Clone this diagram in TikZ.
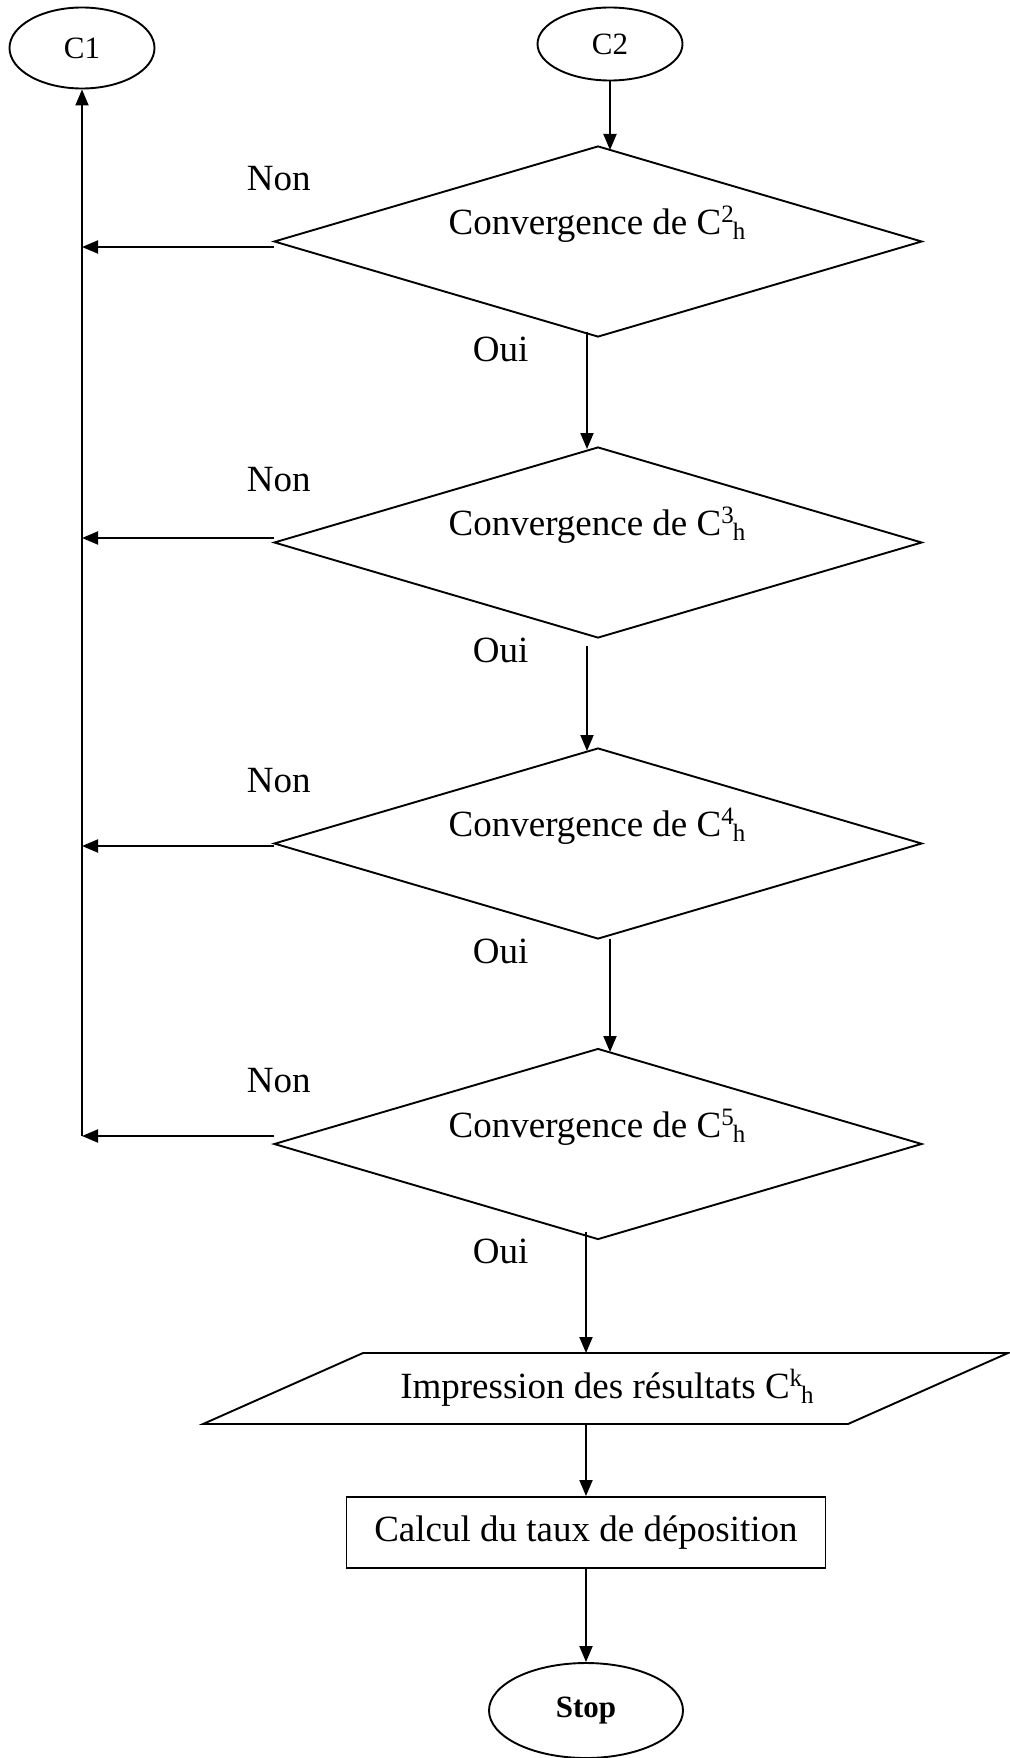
\documentclass[tikz,border=0pt]{standalone}
\usepackage{fontspec}
\setmainfont{Liberation Serif}
\usetikzlibrary{shapes.geometric,arrows.meta}

% text sizes used in the chart
\newcommand\bigtext{\fontsize{37}{44}\selectfont}
\newcommand\termtext{\fontsize{31}{37}\selectfont}
\newcommand\stoptext{\fontsize{31}{37}\selectfont\bfseries}
\newcommand\idxsize{\fontsize{25}{25}\selectfont}
% C with an upper index followed by a lower index
\newcommand\Cidx[2]{C\raisebox{12pt}{\idxsize #1}\kern-1pt\raisebox{-5pt}{\idxsize #2}}

\begin{document}
\begin{tikzpicture}[x=1pt,y=-1pt,line width=1.9pt,
  arr/.style={-{Triangle[length=16pt,width=13pt]}},
  term/.style={draw,ellipse,inner sep=0pt},
  decision/.style={draw,diamond,minimum width=648pt,minimum height=191pt,inner sep=0pt},
  lbl/.style={font=\bigtext,inner sep=0pt,anchor=base west},
  ctext/.style={font=\bigtext,inner sep=0pt,anchor=base},
]
\useasboundingbox (0,0) rectangle (1009,1758);

% connectors C1 / C2
\node[term,minimum width=145pt,minimum height=81pt,font=\termtext] (c1) at (82,48) {C1};
\node[term,minimum width=145pt,minimum height=73pt,font=\termtext] (c2) at (610,44) {C2};

% the four convergence tests
\node[decision] (d1) at (598,241.5) {};
\node[decision] (d2) at (598,542.5) {};
\node[decision] (d3) at (598,843.5) {};
\node[decision] (d4) at (598,1144) {};

\node[ctext] (t1) at (597,234.5) {Convergence de \Cidx{2}{h}};
\node[ctext] (t2) at (597,535.5) {Convergence de \Cidx{3}{h}};
\node[ctext] (t3) at (597,836.5) {Convergence de \Cidx{4}{h}};
\node[ctext] (t4) at (597,1137) {Convergence de \Cidx{5}{h}};

\node[lbl] (n1) at (246,190) {Non};
\node[lbl] (n2) at (246,491) {Non};
\node[lbl] (n3) at (246,792) {Non};
\node[lbl] (n4) at (246,1092.5) {Non};

\node[lbl] (o1) at (472,361.5) {Oui};
\node[lbl] (o2) at (472,662.5) {Oui};
\node[lbl] (o3) at (472,963.5) {Oui};
\node[lbl] (o4) at (472,1263) {Oui};

% output of the results (parallelogram)
\coordinate (pbl) at (203,1424);
\coordinate (ptl) at (363,1353);
\coordinate (ptr) at (1008,1353);
\coordinate (pbr) at (848,1424);
\draw (pbl) -- (ptl) -- (ptr) -- (pbr) -- cycle;
\node[ctext] (pt) at (607,1398) {Impression des résultats \Cidx{k}{h}};

% computation box and end
\node[draw,minimum width=479pt,minimum height=71pt,inner sep=0pt,font=\bigtext] (rc) at (586,1532.5) {Calcul du taux de déposition};
\node[term,minimum width=194pt,minimum height=95pt,font=\stoptext] (st) at (586,1710.5) {Stop};

% ends of the "Oui" connectors
\coordinate (e1) at (610,150);
\coordinate (x1) at (587,332);
\coordinate (e2) at (587,449);
\coordinate (x2) at (587,646);
\coordinate (e3) at (587,751);
\coordinate (x3) at (610,939);
\coordinate (e4) at (610,1052);
\coordinate (x4) at (586,1232);

% ends of the "Non" connectors and the return line
\coordinate (w1) at (274,247);
\coordinate (w2) at (274,538);
\coordinate (w3) at (274,846);
\coordinate (w4) at (274,1136);
\coordinate (lb) at (82,1136);

\draw[arr] (c2) -- (e1);
\draw[arr] (x1) -- (e2);
\draw[arr] (x2) -- (e3);
\draw[arr] (x3) -- (e4);
\draw[arr] (x4) -- (x4 |- ptl);
\draw[arr] (rc.north |- pbl) -- (rc.north);
\draw[arr] (rc) -- (st);

\draw[arr] (w1) -- (w1 -| lb);
\draw[arr] (w2) -- (w2 -| lb);
\draw[arr] (w3) -- (w3 -| lb);
\draw[arr] (w4) -- (lb);
\draw[arr] (lb) -- (c1.south);
\end{tikzpicture}
\end{document}
